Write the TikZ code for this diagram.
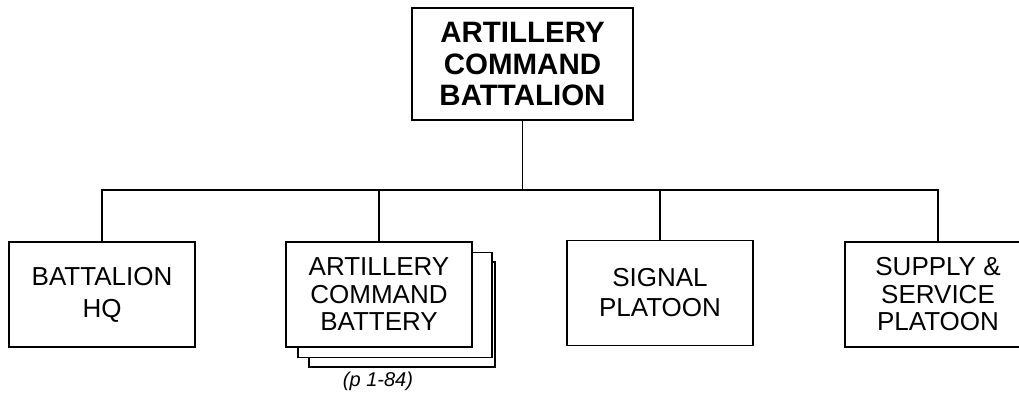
\documentclass[tikz,border=0pt]{standalone}
\usepackage{fontspec}
\setmainfont{Liberation Sans}
\begin{document}
\begin{tikzpicture}[x=1pt,y=-1pt,
  unitbox/.style={draw=black,line width=1.5pt,fill=white,inner sep=0pt,
    minimum width=186pt,minimum height=105pt,align=center,
    font=\fontsize{26}{27.5}\selectfont},
  conn/.style={draw=black,line width=1.5pt}]
\useasboundingbox (0,0) rectangle (1019,399);
\node[draw=black,line width=1.5pt,inner sep=0pt,minimum width=221pt,minimum height=112pt,
  align=center,font=\fontsize{29.5}{31.7}\selectfont\bfseries] (top) at (522.5,64)
  {ARTILLERY\\COMMAND\\BATTALION};
\coordinate (busy) at (0,190);
\node[unitbox,font=\fontsize{26}{32}\selectfont] (hq) at (102,294.5) {BATTALION\\HQ};
\node[unitbox] (bat3) at (402,314.5) {};
\node[unitbox,minimum width=194pt] (bat2) at (395,305) {};
\node[unitbox] (bat) at (379,294.5) {ARTILLERY\\COMMAND\\BATTERY};
\node[unitbox,font=\fontsize{26}{30}\selectfont] (sig) at (660,293) {SIGNAL\\PLATOON};
\node[unitbox] (sup) at (938,294.5) {SUPPLY \&\\SERVICE\\PLATOON};
\node[font=\fontsize{20}{24}\selectfont\itshape] (ref) at (378,381) {(p 1-84)};
\draw[conn] (top.south) -- (top.south |- busy);
\draw[conn] (hq.north) -- (hq.north |- busy) -- (sup.north |- busy) -- (sup.north);
\draw[conn] (bat.north) -- (bat.north |- busy);
\draw[conn] (sig.north) -- (sig.north |- busy);
\end{tikzpicture}
\end{document}
